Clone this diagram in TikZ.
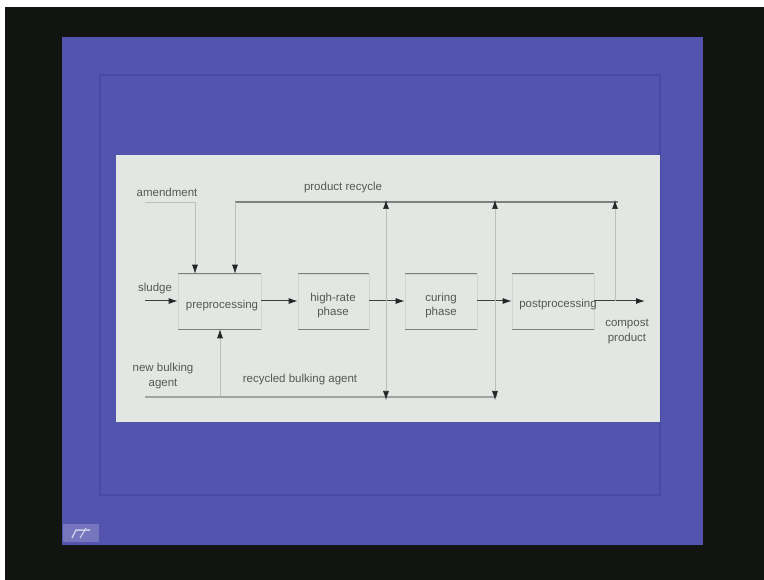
\documentclass[tikz,border=0pt]{standalone}
\usepackage{fontspec}
\setmainfont{Liberation Sans}
\usetikzlibrary{arrows.meta}
\definecolor{bgblack}{HTML}{121411}
\definecolor{panelblue}{HTML}{5254AE}
\definecolor{innerblue}{HTML}{474AA2}
\definecolor{paper}{HTML}{E3E7E3}
\definecolor{txtgray}{HTML}{555955}
\definecolor{linedark}{HTML}{3C3F3C}
\definecolor{linemid}{HTML}{7E827E}
\definecolor{linefaint}{HTML}{BCC0BC}
\definecolor{boxside}{HTML}{D2D6D2}
\begin{document}
\begin{tikzpicture}[x=1pt,y=-1pt,
  lbl/.style={text=txtgray,font=\fontsize{11.5}{13}\selectfont,align=center,inner sep=0pt},
  procbox/.style={draw=boxside,line width=0.6pt,fill=paper,inner sep=0pt},
  edgeline/.style={draw=linemid,line width=1.4pt},
  tipk/.style={-{Latex[length=9pt,width=6pt,color=black!85]}},
  mainflow/.style={draw=linedark,line width=1pt,tipk},
  faintflow/.style={draw=linefaint,line width=0.7pt,tipk},
  topline/.style={draw=linemid,line width=1.2pt}
]
\useasboundingbox (0,0) rectangle (764,580);
% background
\fill[bgblack] (0,0) rectangle (764,580);
\fill[white] (0,0) rectangle (764,7);
\fill[white] (0,0) rectangle (5,580);
\fill[panelblue] (62,37) rectangle (703,545);
\draw[innerblue,line width=1.2pt] (100,75) rectangle (660,495);
\fill[paper] (116,155) rectangle (660,422);
% icon
\fill[panelblue!80!white] (63,524) rectangle (99,542);
\draw[white!70!panelblue,line width=1.5pt] (72,538) -- (76,530) -- (90,530);
\draw[white!70!panelblue,line width=1.2pt] (80,538) -- (86,528);

% boxes
\node[procbox,minimum width=83pt,minimum height=55pt] (pre) at (219.5,301.5) {};
\node[procbox,minimum width=71pt,minimum height=55pt] (hr) at (333.5,301.5) {};
\node[procbox,minimum width=72pt,minimum height=55pt] (cur) at (441,301.5) {};
\node[procbox,minimum width=82pt,minimum height=55pt] (post) at (553,301.5) {};
\foreach \b in {pre,hr,cur,post}{
  \draw[edgeline] (\b.north west) -- (\b.north east);
  \draw[edgeline] (\b.south west) -- (\b.south east);
}
\node[lbl] (pretxt) at (222,306) {preprocessing};
\node[lbl] (hrtxt) at (333,306) {high-rate\\[1pt]phase};
\node[lbl] (curtxt) at (441,306) {curing\\[1pt]phase};
\node[lbl] (posttxt) at (558,305) {postprocessing};

% labels
\node[lbl] (amend) at (167,192) {amendment};
\node[lbl] (prodrec) at (343,188) {product recycle};
\node[lbl] (sludge) at (155,289) {sludge};
\node[lbl] (newbulk) at (163,376) {new bulking\\[2pt]agent};
\node[lbl] (recbulk) at (300,380) {recycled bulking agent};
\node[lbl] (compost) at (627,331) {compost\\[2pt]product};

% coordinates
\coordinate (sl0) at (145,301);
\coordinate (out) at (645,301);
\coordinate (am0) at (195,202);
\coordinate (amL) at (145,202);
\coordinate (pr0) at (235,202);
\coordinate (pr1) at (618,202);
\coordinate (j1) at (386,301);
\coordinate (j2) at (495,301);
\coordinate (j3) at (615,301);
\coordinate (t1) at (386,202);
\coordinate (t2) at (495,202);
\coordinate (t3) at (615,202);
\coordinate (b0) at (145,397);
\coordinate (b1) at (386,397);
\coordinate (b2) at (495,397);
\coordinate (bp) at (220,397);

% top recycle line
\draw[topline] (pr0) -- (pr1);
\draw[linefaint,line width=0.9pt] (amL) -- (am0);
% bottom bulking line
\draw[topline] (b0) -- (b2) to[out=0,in=-90] ++(1.5,-3);

% main flow
\draw[mainflow] (sl0) -- (pre.west |- sl0);
\draw[mainflow] (pre.east |- sl0) -- (hr.west |- sl0);
\draw[mainflow] (hr.east |- sl0) -- (cur.west |- sl0);
\draw[mainflow] (cur.east |- sl0) -- (post.west |- sl0);
\draw[mainflow] (post.east |- sl0) -- (out);

% feeds into preprocessing
\draw[faintflow] (am0) -- (pre.north -| am0);
\draw[faintflow] (pr0) -- (pre.north -| pr0);
\draw[faintflow] (bp) -- (pre.south -| bp);

% recycle branches
\draw[faintflow] (j1) -- ([yshift=2pt]t1);
\draw[faintflow] (j2) -- ([yshift=2pt]t2);
\draw[faintflow] (j3) -- ([yshift=2pt]t3);
\draw[faintflow] (j1) -- ([yshift=-3pt]b1);
\draw[faintflow] (j2) -- ([yshift=-3pt]b2);
\end{tikzpicture}
\end{document}
